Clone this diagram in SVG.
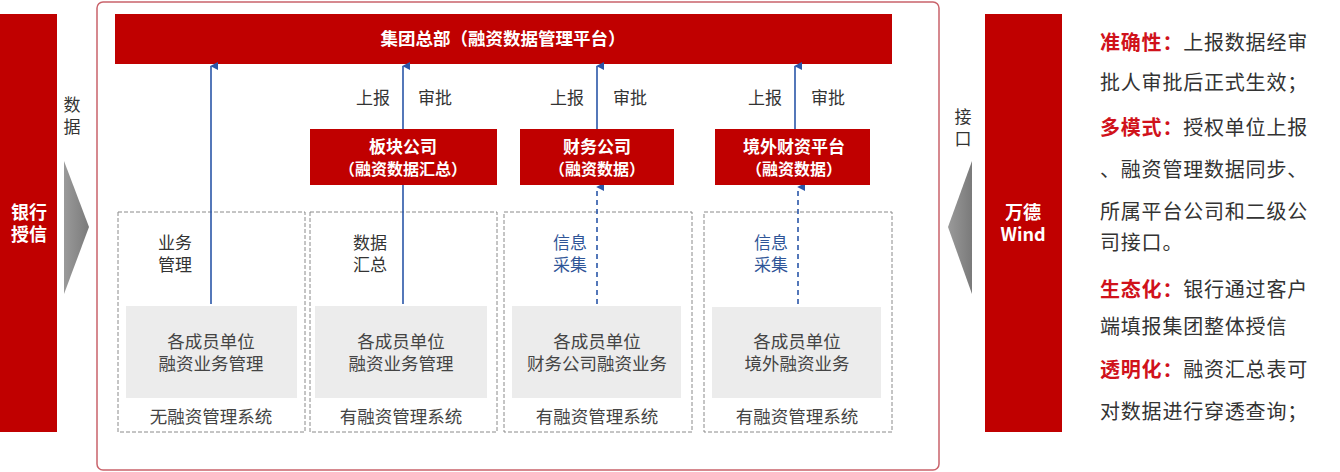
<svg xmlns="http://www.w3.org/2000/svg" width="1340" height="472" viewBox="0 0 1340 472">
<defs>
<marker id="ah" viewBox="0 0 10 10" refX="5" refY="1" markerWidth="8" markerHeight="8" markerUnits="userSpaceOnUse" orient="auto-start-reverse">
<path d="M0,10 L5,0 L10,10 Z" fill="#2a56a8"/>
</marker>
<linearGradient id="g" x1="0" y1="0" x2="1" y2="0"><stop offset="0" stop-color="#9a9a9a"/><stop offset="1" stop-color="#7a7a7a"/></linearGradient>
</defs>
<style>
.red{fill:#c00000}
.wt{fill:#fff;font-family:"Noto Sans CJK SC","Liberation Sans",sans-serif;font-weight:bold;text-anchor:middle}
.dk{fill:#333;font-family:"Noto Sans CJK SC","Liberation Sans",sans-serif;text-anchor:middle;font-size:17px}
.gy{fill:#444;font-family:"Noto Sans CJK SC","Liberation Sans",sans-serif;text-anchor:middle;font-size:17.5px}
.bl{fill:#2f5597;font-family:"Noto Sans CJK SC","Liberation Sans",sans-serif;text-anchor:middle;font-size:17px}
.dash{fill:#fff;stroke:#8a8a8a;stroke-width:1;stroke-dasharray:4 2}
.inner{fill:#ececec}
.ln{stroke:#2a56a8;stroke-width:1.6;fill:none}
.dl{stroke:#2a56a8;stroke-width:1.6;fill:none;stroke-dasharray:5 4}
.rt{font-family:"Noto Sans CJK SC","Liberation Sans",sans-serif;font-size:20px;fill:#333;letter-spacing:0.8px}
.rh{fill:#d0121b;font-weight:bold}
</style>
<rect width="1340" height="472" fill="#fff"/>

<g id="bank">
<rect class="red" x="0" y="14" width="57" height="418"/>
<text class="wt" x="29" y="219" font-size="18">银行</text>
<text class="wt" x="29" y="241" font-size="18">授信</text>
</g>
<g id="arrow-left">
<path d="M64,161 L89,227 L64,294 Z" fill="url(#g)"/>
<text class="dk" x="72" y="111" font-size="16">数</text>
<text class="dk" x="72" y="133" font-size="16">据</text>
</g>

<g id="panel">
<rect x="97" y="2" width="842" height="468" rx="6" fill="#fff" stroke="#c9636b" stroke-width="1.5"/>
</g>

<g id="hq">
<rect class="red" x="115" y="14" width="777" height="50"/>
<text class="wt" x="503" y="45" font-size="17.5">集团总部（融资数据管理平台）</text>
</g>

<g id="box1">
<rect class="dash" x="118" y="212" width="187" height="220"/>
<rect class="inner" x="126" y="306" width="171" height="92"/>
<text class="gy" x="211" y="348">各成员单位</text>
<text class="gy" x="211" y="370">融资业务管理</text>
<text class="gy" x="211" y="423">无融资管理系统</text>
<text class="dk" x="175" y="249">业务</text>
<text class="dk" x="175" y="271">管理</text>
</g>
<g id="box2">
<rect class="dash" x="310" y="212" width="187" height="220"/>
<rect class="inner" x="315" y="306" width="172" height="92"/>
<text class="gy" x="401" y="348">各成员单位</text>
<text class="gy" x="401" y="370">融资业务管理</text>
<text class="gy" x="401" y="423">有融资管理系统</text>
<text class="dk" x="370" y="249">数据</text>
<text class="dk" x="370" y="271">汇总</text>
</g>
<g id="box3">
<rect class="dash" x="504" y="212" width="188" height="220"/>
<rect class="inner" x="512" y="306" width="169" height="92"/>
<text class="gy" x="597" y="348">各成员单位</text>
<text class="gy" x="597" y="370">财务公司融资业务</text>
<text class="gy" x="597" y="423">有融资管理系统</text>
<text class="bl" x="570" y="249">信息</text>
<text class="bl" x="570" y="271">采集</text>
</g>
<g id="box4">
<rect class="dash" x="704" y="212" width="188" height="220"/>
<rect class="inner" x="712" y="307" width="169" height="91"/>
<text class="gy" x="797" y="348">各成员单位</text>
<text class="gy" x="797" y="370">境外融资业务</text>
<text class="gy" x="797" y="423">有融资管理系统</text>
<text class="bl" x="771" y="249">信息</text>
<text class="bl" x="771" y="271">采集</text>
</g>

<g id="connectors">
<line class="ln" x1="211" y1="304" x2="211" y2="66" marker-end="url(#ah)"/>
<line class="ln" x1="403" y1="304" x2="403" y2="66" marker-end="url(#ah)"/>
<line class="ln" x1="597" y1="129" x2="597" y2="66" marker-end="url(#ah)"/>
<line class="ln" x1="795" y1="129" x2="795" y2="66" marker-end="url(#ah)"/>
<line class="dl" x1="597" y1="304" x2="597" y2="187" marker-end="url(#ah)"/>
<line class="dl" x1="798" y1="304" x2="798" y2="187" marker-end="url(#ah)"/>
</g>

<g id="sector">
<rect class="red" x="310" y="129" width="187" height="56"/>
<text class="wt" x="403" y="153" font-size="17">板块公司</text>
<text class="wt" x="403" y="175" font-size="16">（融资数据汇总）</text>
<text class="dk" x="373" y="104">上报</text>
<text class="dk" x="435" y="104">审批</text>
</g>
<g id="finance">
<rect class="red" x="520" y="129" width="154" height="56"/>
<text class="wt" x="597" y="153" font-size="17">财务公司</text>
<text class="wt" x="597" y="175" font-size="16">（融资数据）</text>
<text class="dk" x="567" y="104">上报</text>
<text class="dk" x="630" y="104">审批</text>
</g>
<g id="overseas">
<rect class="red" x="715" y="129" width="155" height="56"/>
<text class="wt" x="794" y="153" font-size="17">境外财资平台</text>
<text class="wt" x="794" y="175" font-size="16">（融资数据）</text>
<text class="dk" x="765" y="104">上报</text>
<text class="dk" x="828" y="104">审批</text>
</g>

<g id="arrow-right">
<path d="M972,161 L948,227 L972,294 Z" fill="url(#g)"/>
<text class="dk" x="963" y="123" font-size="16">接</text>
<text class="dk" x="963" y="145" font-size="16">口</text>
</g>
<g id="wind">
<rect class="red" x="985" y="14" width="77" height="418"/>
<text class="wt" x="1023" y="219" font-size="18">万德</text>
<text class="wt" x="1023" y="241" font-size="18">Wind</text>
</g>

<g id="notes">
<text class="rt" x="1100" y="50"><tspan class="rh">准确性：</tspan>上报数据经审</text>
<text class="rt" x="1100" y="90">批人审批后正式生效；</text>
<text class="rt" x="1100" y="135"><tspan class="rh">多模式：</tspan>授权单位上报</text>
<text class="rt" x="1100" y="177">、融资管理数据同步、</text>
<text class="rt" x="1100" y="219">所属平台公司和二级公</text>
<text class="rt" x="1100" y="250">司接口。</text>
<text class="rt" x="1100" y="297"><tspan class="rh">生态化：</tspan>银行通过客户</text>
<text class="rt" x="1100" y="334">端填报集团整体授信</text>
<text class="rt" x="1100" y="377"><tspan class="rh">透明化：</tspan>融资汇总表可</text>
<text class="rt" x="1100" y="419">对数据进行穿透查询；</text>
</g>
</svg>
